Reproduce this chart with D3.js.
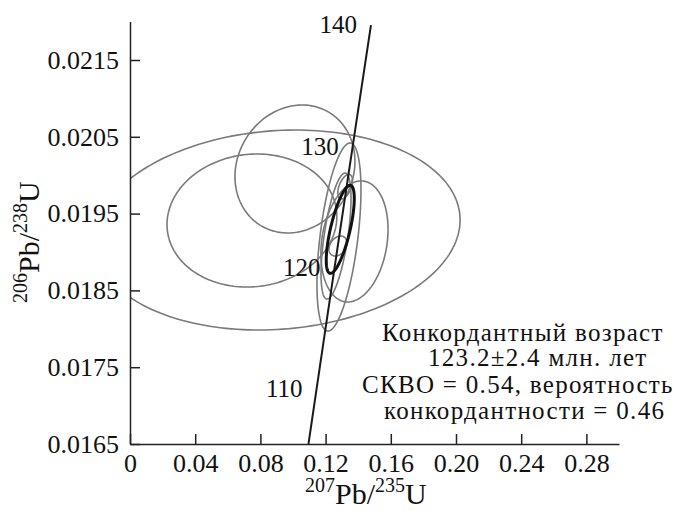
<!DOCTYPE html>
<html>
<head>
<meta charset="utf-8">
<script src="https://cdn.jsdelivr.net/npm/d3@7"></script>
<style>
  html, body { margin: 0; padding: 0; background: #fff; }
  svg { display: block; font-family: "Liberation Serif", "DejaVu Serif", serif; }
</style>
</head>
<body>
<svg id="chart" width="681" height="511"></svg>
<script>
// Axis ticks
const xTicks = [0, 0.04, 0.08, 0.12, 0.16, 0.20, 0.24, 0.28];
const yTicks = [0.0165, 0.0175, 0.0185, 0.0195, 0.0205, 0.0215];

// Individual analyses: 207Pb/235U, 206Pb/238U, half-extents and error correlation
const ellX   = [0.0902, 0.0748, 0.1012, 0.1377, 0.1282, 0.1264, 0.1276, 0.1320];
const ellY   = [0.019286, 0.019410, 0.020081, 0.019137, 0.019195, 0.019208, 0.019078, 0.019850];
const ellSx  = [0.1123, 0.0521, 0.0368, 0.0206, 0.0135, 0.0092, 0.0055, 0.0045];
const ellSy  = [0.001302, 0.000866, 0.000833, 0.000788, 0.001224, 0.000820, 0.000130, 0.000160];
const ellRho = [0.10, 0.06, 0.12, 0.20, 0.50, 0.60, 0.30, 0.50];

// Concordia age ellipse (123.2 ± 2.4 Ma)
const concX = 0.1290, concY = 0.019295, concSx = 0.0086, concSy = 0.000573, concRho = 0.70;

// Concordia: age range (Ma) and labelled ages
const concordiaRange = [105.5, 140.2];
const concordiaLabels = [110, 120, 130, 140];
const lambda238 = 1.55125e-10, lambda235 = 9.8485e-10;

const noteLines = [
  "Конкордантный возраст",
  "123.2±2.4 млн. лет",
  "СКВО = 0.54, вероятность",
  "конкордантности = 0.46"
];

const svg = d3.select("#chart");
const x = d3.scaleLinear().domain([0, 0.30]).range([130, 619]);
const y = d3.scaleLinear().domain([0.0165, 0.022]).range([444, 21.6]);

svg.append("defs").append("clipPath").attr("id", "plot")
  .append("rect").attr("x", 130).attr("y", 0).attr("width", 489).attr("height", 444);

const g = svg.append("g").attr("clip-path", "url(#plot)");

function ellipsePath(cx, cy, sx, sy, rho) {
  const n = 200, pts = [];
  const k = Math.sqrt(1 - rho * rho);
  for (let i = 0; i <= n; i++) {
    const t = 2 * Math.PI * i / n;
    pts.push([x(cx + sx * Math.cos(t)), y(cy + sy * (rho * Math.cos(t) + k * Math.sin(t)))]);
  }
  return d3.line()(pts);
}

g.selectAll("path.ell").data(ellX).enter().append("path")
  .attr("class", "ell")
  .attr("d", (d, i) => ellipsePath(ellX[i], ellY[i], ellSx[i], ellSy[i], ellRho[i]))
  .attr("fill", "none").attr("stroke", "#7a7a7a").attr("stroke-width", 1.6);

// Concordia curve
const ratio238 = t => Math.exp(lambda238 * t * 1e6) - 1;
const ratio235 = t => Math.exp(lambda235 * t * 1e6) - 1;
const ages = d3.range(concordiaRange[0], concordiaRange[1] + 0.01, 0.5);
g.append("path")
  .attr("d", d3.line().x(t => x(ratio235(t))).y(t => y(ratio238(t)))(ages))
  .attr("fill", "none").attr("stroke", "#1a1a1a").attr("stroke-width", 2);

g.append("path")
  .attr("d", ellipsePath(concX, concY, concSx, concSy, concRho))
  .attr("fill", "none").attr("stroke", "#111").attr("stroke-width", 3);

svg.selectAll("text.age").data(concordiaLabels).enter().append("text")
  .attr("class", "age")
  .attr("x", t => x(ratio235(t)) - 14)
  .attr("y", t => y(ratio238(t)) + 8)
  .attr("text-anchor", "end")
  .attr("font-size", 25).attr("fill", "#111")
  .text(t => t);

// Axes
const xAxis = d3.axisBottom(x).tickValues(xTicks)
  .tickFormat(d => d === 0 ? "0" : d3.format(".2f")(d))
  .tickSizeInner(-10).tickSizeOuter(0).tickPadding(10);
const yAxis = d3.axisLeft(y).tickValues(yTicks)
  .tickFormat(d3.format(".4f"))
  .tickSizeInner(-10).tickSizeOuter(0).tickPadding(11);

const gx = svg.append("g").attr("transform", "translate(0,444)").call(xAxis);
const gy = svg.append("g").attr("transform", "translate(130,0)").call(yAxis);
[gx, gy].forEach(a => {
  a.selectAll("path, line").attr("stroke", "#222").attr("stroke-width", 1.5);
  a.selectAll("text").attr("font-size", 26).attr("fill", "#111")
    .attr("font-family", "Liberation Serif, DejaVu Serif, serif");
});

// Axis titles with superscript mass numbers
function isotopeTitle(sel, a, b, c, d) {
  sel.append("tspan").attr("font-size", 20).attr("dy", -12).text(a);
  sel.append("tspan").attr("font-size", 30).attr("dy", 12).text(b);
  sel.append("tspan").attr("font-size", 20).attr("dy", -12).text(c);
  sel.append("tspan").attr("font-size", 30).attr("dy", 12).text(d);
}
const xt = svg.append("text").attr("x", 305).attr("y", 504).attr("fill", "#111");
isotopeTitle(xt, "207", "Pb/", "235", "U");
const yt = svg.append("text").attr("transform", "translate(39,303) rotate(-90)").attr("fill", "#111");
isotopeTitle(yt, "206", "Pb/", "238", "U");

// Result annotation
const noteX = [382, 428, 362, 384];
const noteY = [341, 366, 393, 419];
svg.selectAll("text.note").data(noteLines).enter().append("text")
  .attr("class", "note")
  .attr("x", (d, i) => noteX[i]).attr("y", (d, i) => noteY[i])
  .attr("font-size", 25).attr("letter-spacing", 1.3).attr("fill", "#111")
  .text(d => d);
</script>
</body>
</html>
